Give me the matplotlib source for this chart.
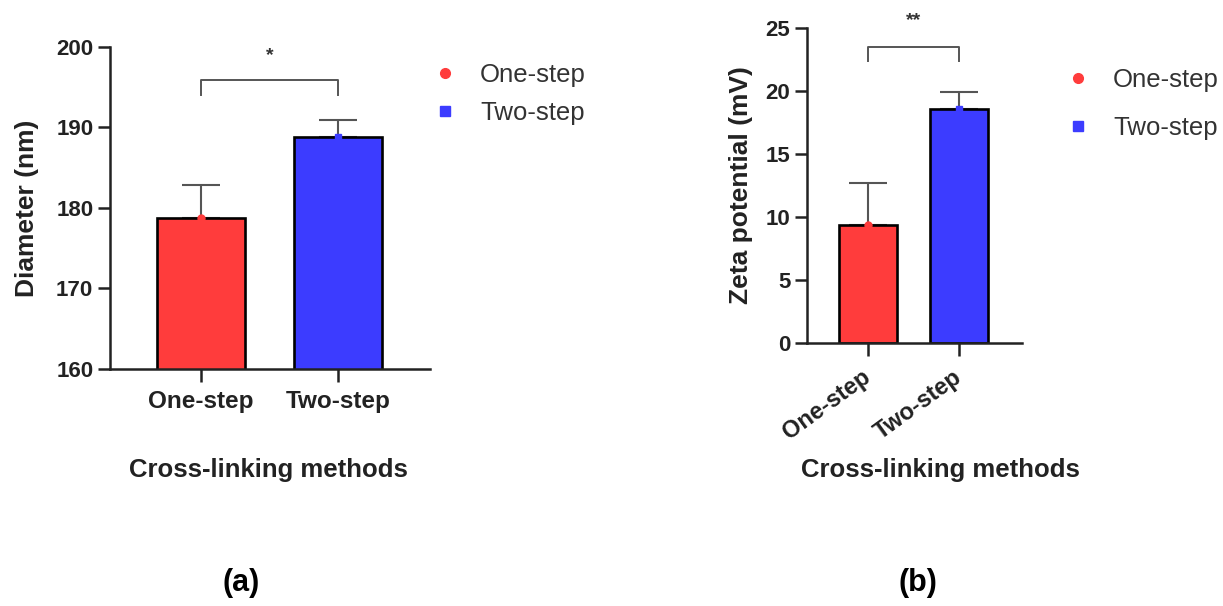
import numpy as np
import matplotlib
matplotlib.use("Agg")
import matplotlib.pyplot as plt
from matplotlib.lines import Line2D

plt.rcParams['font.family'] = ['Liberation Sans', 'DejaVu Sans']

# data
groups = ["One-step", "Two-step"]
diameter_mean = [178.8, 188.8]
diameter_err = [4.1, 2.1]
zeta_mean = [9.4, 18.6]
zeta_err = [3.3, 1.3]
bar_colors = ["#ff3c3c", "#3c3cff"]
point_markers = ["o", "s"]

W, H = 1223, 606
fig = plt.figure(figsize=(W / 100, H / 100), dpi=100)


def px_box(x0, x1, ytop, ybot):
    return [x0 / W, 1 - ybot / H, (x1 - x0) / W, (ybot - ytop) / H]


def style_axes(ax, xsize):
    for s in ["top", "right"]:
        ax.spines[s].set_visible(False)
    for s in ["left", "bottom"]:
        ax.spines[s].set_linewidth(1.8)
        ax.spines[s].set_color("#222222")
    ax.tick_params(width=1.8, length=9, color="#222222", labelsize=16)
    ax.tick_params(axis="x", labelsize=xsize)
    for lbl in ax.get_xticklabels() + ax.get_yticklabels():
        lbl.set_fontweight("bold")
        lbl.set_color("#222222")


def draw_bars(ax, means, errs, width):
    x = np.arange(len(groups))
    ax.bar(x, means, width=width, color=bar_colors, edgecolor="black",
           linewidth=1.9, zorder=2)
    for i in range(len(groups)):
        ax.errorbar(x[i], means[i], yerr=[[0], [errs[i]]], fmt="none",
                    ecolor="#555555", elinewidth=1.5, capsize=14,
                    capthick=1.5, zorder=1)
        ax.plot(x[i], means[i], marker=point_markers[i], color=bar_colors[i],
                markersize=5, zorder=3, clip_on=False)
    return x


def bracket(ax, y_top, y_foot, y_star, star):
    ax.plot([0, 0, 1, 1], [y_foot, y_top, y_top, y_foot], color="#555555",
            lw=1.4, clip_on=False)
    ax.text(0.5, y_star, star, ha="center", va="center", fontsize=14,
            fontweight="bold", color="#333333", clip_on=False)


# panel (a)
ax1 = fig.add_axes(px_box(110, 430, 47, 369))
x = draw_bars(ax1, diameter_mean, diameter_err, 0.64)
ax1.set_xlim(-0.664, 1.672)
ax1.set_ylim(160, 200)
ax1.set_yticks([160, 170, 180, 190, 200])
ax1.set_xticks(x)
ax1.set_xticklabels(groups)
ax1.tick_params(axis="x", pad=6)
ax1.tick_params(axis="y", pad=3)
style_axes(ax1, 17.5)
ax1.set_ylabel("Diameter (nm)", fontsize=19, fontweight="bold",
               color="#222222", labelpad=12)
bracket(ax1, 195.9, 194.0, 198.9, "*")

# panel (b)
ax2 = fig.add_axes(px_box(807, 1022, 28, 343))
x = draw_bars(ax2, zeta_mean, zeta_err, 0.64)
ax2.set_xlim(-0.67, 1.69)
ax2.set_ylim(0, 25)
ax2.set_yticks([0, 5, 10, 15, 20, 25])
ax2.set_xticks(x)
ax2.set_xticklabels(groups, rotation=36, ha="right", va="center",
                    rotation_mode="anchor")
ax2.tick_params(axis="x", pad=14)
ax2.tick_params(axis="y", pad=3)
style_axes(ax2, 17)
ax2.set_ylabel("Zeta potential (mV)", fontsize=19, fontweight="bold",
               color="#222222", labelpad=9)
bracket(ax2, 23.5, 22.4, 25.6, "**")

# x labels and panel tags
fig.text(268 / W, 1 - 470 / H, "Cross-linking methods", ha="center",
         va="center", fontsize=18.5, fontweight="bold", color="#222222")
fig.text(940 / W, 1 - 470 / H, "Cross-linking methods", ha="center",
         va="center", fontsize=18.5, fontweight="bold", color="#222222")
fig.text(241 / W, 1 - 583 / H, "(a)", ha="center", va="center",
         fontsize=22, fontweight="bold", color="black")
fig.text(918 / W, 1 - 583 / H, "(b)", ha="center", va="center",
         fontsize=22, fontweight="bold", color="black")

# legends
handles = [Line2D([], [], ls="none", marker=m, color=c, markersize=7)
           for m, c in zip(point_markers, bar_colors)]
leg_kw = dict(frameon=False, loc="center left", handlelength=0.8,
              handletextpad=0.95, borderaxespad=0, borderpad=0,
              prop={"size": 18.5}, labelcolor="#333333")
fig.legend(handles, groups, bbox_to_anchor=(435 / W, 1 - 94 / H),
           labelspacing=0.55, **leg_kw)
fig.legend(handles, groups, bbox_to_anchor=(1068 / W, 1 - 104 / H),
           labelspacing=0.95, **leg_kw)

fig.savefig("out.png", dpi=100)
